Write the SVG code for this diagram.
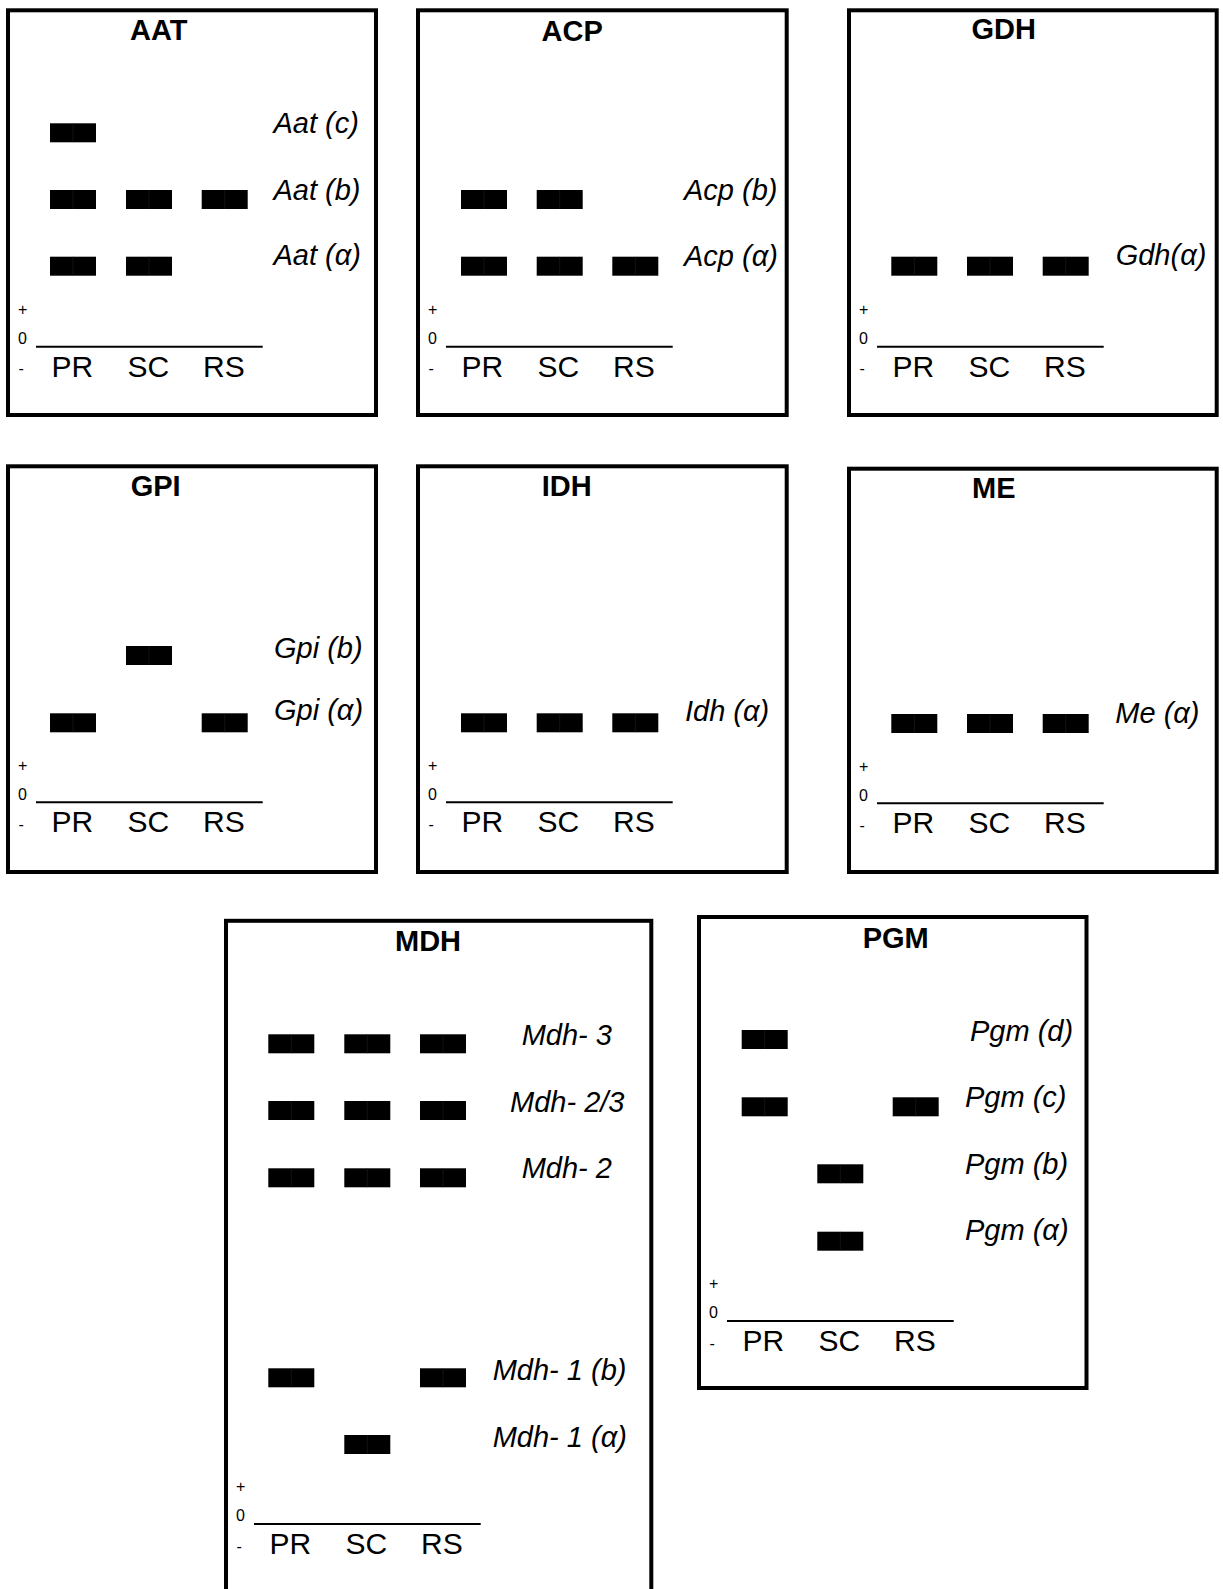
<svg xmlns="http://www.w3.org/2000/svg" width="1223" height="1589" viewBox="0 0 1223 1589">
<style>
.box{fill:none;stroke:#000;stroke-width:4}
.t{font-family:"Liberation Sans",Arial,sans-serif;font-size:29px;font-weight:bold;fill:#000}
.l{font-family:"Liberation Sans",Arial,sans-serif;font-size:29px;font-style:italic;fill:#000}
.n{font-family:"Liberation Sans",Arial,sans-serif;font-size:30px;fill:#000}
.s{font-family:"Liberation Sans",Arial,sans-serif;font-size:16px;fill:#000}
.ax{stroke:#000;stroke-width:2}
</style>
<defs>
<g id="band"><rect x="0" y="0" width="46" height="19" fill="#000"/><line x1="23" y1="0" x2="23" y2="19" stroke="#262626" stroke-width="0.5"/></g>
<g id="axis">
<text class="s" x="10" y="0">+</text>
<text class="s" x="10" y="29">0</text>
<line class="ax" x1="28" y1="31.7" x2="254.7" y2="31.7"/>
<text class="s" x="10.5" y="59.3">-</text>
<text class="n" x="43.5" y="61.7">PR</text>
<text class="n" x="119.5" y="61.7">SC</text>
<text class="n" x="195" y="61.7">RS</text>
</g>
</defs>
<rect width="1223" height="1589" fill="#fff"/>

<g id="AAT" transform="translate(8,10.3)">
<rect class="box" x="0" y="0" width="368" height="404.7"/>
<text class="t" x="122" y="30">AAT</text>
<use href="#band" x="42" y="113"/>
<use href="#band" x="42" y="179.7"/><use href="#band" x="118" y="179.7"/><use href="#band" x="193.7" y="179.7"/>
<use href="#band" x="42" y="246.4"/><use href="#band" x="118" y="246.4"/>
<text class="l" x="265.5" y="123">Aat (c)</text>
<text class="l" x="265.5" y="189.7">Aat (b)</text>
<text class="l" x="265.5" y="254.7">Aat (α)</text>
<use href="#axis" x="0" y="304.7"/>
</g>

<g id="ACP" transform="translate(418,10.3)">
<rect class="box" x="0" y="0" width="368.7" height="404.7"/>
<text class="t" x="123.5" y="30.4">ACP</text>
<use href="#band" x="43" y="179.7"/><use href="#band" x="118.7" y="179.7"/>
<use href="#band" x="43" y="246.4"/><use href="#band" x="118.7" y="246.4"/><use href="#band" x="194.3" y="246.4"/>
<text class="l" x="266" y="189.7">Acp (b)</text>
<text class="l" x="266" y="255.4">Acp (α)</text>
<use href="#axis" x="0" y="304.7"/>
</g>

<g id="GDH" transform="translate(849,10.3)">
<rect class="box" x="0" y="0" width="367.7" height="404.7"/>
<text class="t" x="122.5" y="29">GDH</text>
<use href="#band" x="42.3" y="246.4"/><use href="#band" x="118" y="246.4"/><use href="#band" x="193.7" y="246.4"/>
<text class="l" x="266.7" y="254.7">Gdh(α)</text>
<use href="#axis" x="0" y="304.7"/>
</g>

<g id="GPI" transform="translate(8,466.3)">
<rect class="box" x="0" y="0" width="368" height="405.7"/>
<text class="t" x="122.7" y="29.7">GPI</text>
<use href="#band" x="118" y="179.7"/>
<use href="#band" x="42" y="247"/><use href="#band" x="193.7" y="247"/>
<text class="l" x="266" y="191.4">Gpi (b)</text>
<text class="l" x="266" y="253.7">Gpi (α)</text>
<use href="#axis" x="0" y="304.3"/>
</g>

<g id="IDH" transform="translate(418,466.3)">
<rect class="box" x="0" y="0" width="368.7" height="405.7"/>
<text class="t" x="123.7" y="29.7">IDH</text>
<use href="#band" x="43" y="247"/><use href="#band" x="118.7" y="247"/><use href="#band" x="194.3" y="247"/>
<text class="l" x="267" y="254.4">Idh (α)</text>
<use href="#axis" x="0" y="304.3"/>
</g>

<g id="ME" transform="translate(849,468.7)">
<rect class="box" x="0" y="0" width="367.7" height="403.3"/>
<text class="t" x="123" y="29.6">ME</text>
<use href="#band" x="42.3" y="245.3"/><use href="#band" x="118" y="245.3"/><use href="#band" x="193.7" y="245.3"/>
<text class="l" x="266.3" y="254">Me (α)</text>
<use href="#axis" x="0" y="302.9"/>
</g>

<g id="MDH" transform="translate(226,920.8)">
<rect class="box" x="0" y="0" width="425.3" height="700"/>
<text class="t" x="169" y="29.9">MDH</text>
<use href="#band" x="42.3" y="113.5"/><use href="#band" x="118.3" y="113.5"/><use href="#band" x="194" y="113.5"/>
<use href="#band" x="42.3" y="180.2"/><use href="#band" x="118.3" y="180.2"/><use href="#band" x="194" y="180.2"/>
<use href="#band" x="42.3" y="247.5"/><use href="#band" x="118.3" y="247.5"/><use href="#band" x="194" y="247.5"/>
<use href="#band" x="42.3" y="447.5"/><use href="#band" x="194" y="447.5"/>
<use href="#band" x="118.3" y="514.2"/>
<text class="l" x="295.7" y="124.2">Mdh- 3</text>
<text class="l" x="284" y="190.9">Mdh- 2/3</text>
<text class="l" x="295.7" y="257.5">Mdh- 2</text>
<text class="l" x="266.7" y="459.2">Mdh- 1 (b)</text>
<text class="l" x="266.7" y="525.9">Mdh- 1 (α)</text>
<use href="#axis" x="0" y="571.5"/>
</g>

<g id="PGM" transform="translate(699,917)">
<rect class="box" x="0" y="0" width="387.5" height="471"/>
<text class="t" x="163.7" y="30.7">PGM</text>
<use href="#band" x="42.7" y="113"/>
<use href="#band" x="42.7" y="180.3"/><use href="#band" x="193.7" y="180.3"/>
<use href="#band" x="118.3" y="247.3"/>
<use href="#band" x="118.3" y="314.7"/>
<text class="l" x="271" y="123.7">Pgm (d)</text>
<text class="l" x="266" y="190.3">Pgm (c)</text>
<text class="l" x="266" y="257">Pgm (b)</text>
<text class="l" x="266" y="323">Pgm (α)</text>
<use href="#axis" x="0" y="372.3"/>
</g>

<g id="connectors"></g>
</svg>
